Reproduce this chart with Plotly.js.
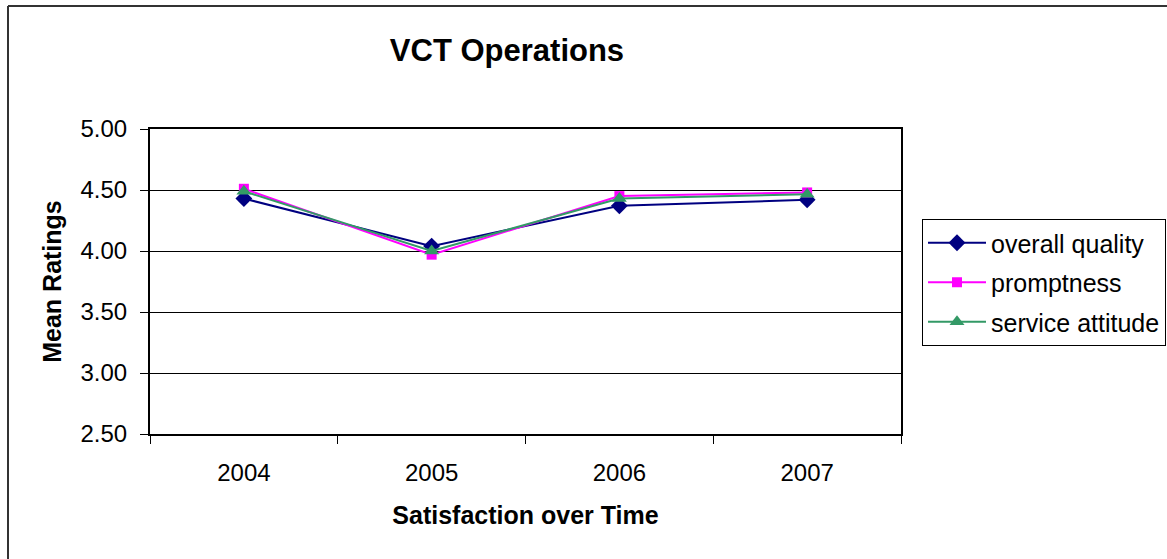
<!DOCTYPE html>
<html>
<head>
<meta charset="utf-8">
<script src="https://cdn.plot.ly/plotly-3.0.1.min.js"></script>
<style>
  html, body { margin: 0; padding: 0; background: #ffffff; }
  #chart { width: 1167px; height: 559px; }
</style>
</head>
<body>
<div id="chart"></div>
<script>
const years = ['2004', '2005', '2006', '2007'];
const overallQuality = [4.43, 4.04, 4.37, 4.42];
const promptness = [4.51, 3.97, 4.45, 4.48];
const serviceAttitude = [4.49, 4.00, 4.43, 4.465];
const yTickVals = [2.5, 3.0, 3.5, 4.0, 4.5, 5.0];

const FONT = 'Arial, "Liberation Sans", sans-serif';

const traces = [
  {
    x: years, y: overallQuality, name: 'overall quality', type: 'scatter', mode: 'lines+markers',
    legendgroup: 'a',
    line: { color: '#000080', width: 2 },
    marker: { symbol: 'diamond', size: 13, color: '#000080' }
  },
  {
    x: years, y: promptness, name: 'promptness', type: 'scatter', mode: 'lines+markers',
    legendgroup: 'b',
    line: { color: '#FF00FF', width: 2 },
    marker: { symbol: 'square', size: 10, color: '#FF00FF' }
  },
  {
    x: years, y: serviceAttitude, name: 'service attitude', type: 'scatter', mode: 'lines+markers',
    legendgroup: 'c',
    line: { color: '#339966', width: 2 },
    marker: { symbol: 'triangle-up', size: 13, color: '#339966' }
  }
];

const L = 150, R = 266, T = 129, B = 125;
const PW = 1167 - L - R, PH = 559 - T - B;
const px = v => (v - L) / PW;
const py = v => (559 - B - v) / PH;

const layout = {
  width: 1167, height: 559,
  margin: { l: L, r: R, t: T, b: B, pad: 0, autoexpand: false },
  paper_bgcolor: '#ffffff',
  plot_bgcolor: '#ffffff',
  font: { family: FONT, color: '#000000', size: 24 },
  title: {
    text: '<b>VCT Operations</b>',
    font: { family: FONT, size: 31, color: '#000000' },
    x: 507 / 1167, xanchor: 'center', xref: 'container',
    y: 1 - 50 / 559, yanchor: 'middle', yref: 'container'
  },
  xaxis: {
    type: 'category',
    range: [-0.5, 3.5],
    tickson: 'boundaries',
    ticks: 'outside', ticklen: 8, tickcolor: '#000000', tickwidth: 1,
    showline: true, linecolor: '#000000', linewidth: 2, mirror: true,
    showgrid: false, zeroline: false,
    tickfont: { family: FONT, size: 24, color: '#000000' },
    ticklabelstandoff: 16,
    title: { text: '<b>Satisfaction over Time</b>', font: { family: FONT, size: 25, color: '#000000' }, standoff: 22 },
    automargin: false,
    fixedrange: true
  },
  yaxis: {
    range: [2.5, 5.0],
    tickvals: yTickVals,
    tickformat: '.2f',
    ticks: 'outside', ticklen: 8, tickcolor: '#000000', tickwidth: 1,
    showline: true, linecolor: '#000000', linewidth: 2, mirror: true,
    showgrid: true, gridcolor: '#000000', gridwidth: 1,
    zeroline: false,
    tickfont: { family: FONT, size: 24, color: '#000000' },
    ticklabelstandoff: 8,
    title: { text: '<b>Mean Ratings</b>', font: { family: FONT, size: 25, color: '#000000' }, standoff: 12 },
    automargin: false,
    fixedrange: true
  },
  showlegend: true,
  legend: {
    x: px(922), y: py(219), xanchor: 'left', yanchor: 'top',
    xref: 'paper', yref: 'paper',
    bgcolor: '#ffffff', bordercolor: '#000000', borderwidth: 1,
    font: { family: FONT, size: 25, color: '#000000' },
    traceorder: 'grouped', tracegroupgap: 4,
    itemwidth: 58
  },
  shapes: [
    { type: 'line', xref: 'paper', yref: 'paper', x0: px(8), x1: px(1167), y0: py(6), y1: py(6),
      line: { color: '#333333', width: 2 } },
    { type: 'line', xref: 'paper', yref: 'paper', x0: px(8), x1: px(8), y0: py(6), y1: py(559),
      line: { color: '#333333', width: 2 } }
  ]
};

Plotly.newPlot('chart', traces, layout, { displayModeBar: false, staticPlot: true });
</script>
</body>
</html>
